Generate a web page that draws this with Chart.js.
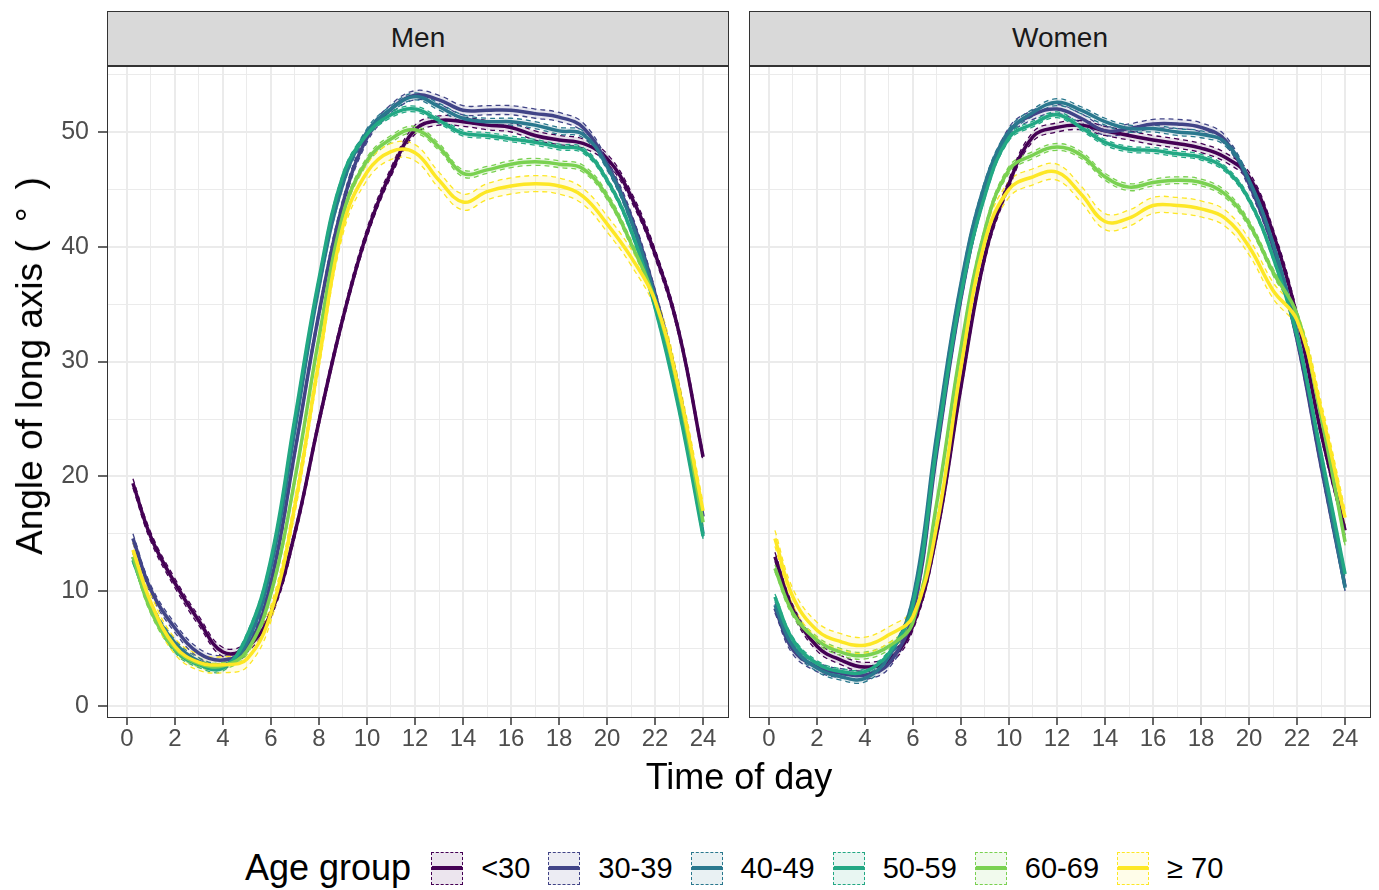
<!DOCTYPE html>
<html>
<head>
<meta charset="utf-8">
<script src="https://cdn.jsdelivr.net/npm/chart.js@4.4.0/dist/chart.umd.min.js"></script>
<style>
  body { margin: 0; background: #fff; font-family: "Liberation Sans", Arial, sans-serif; }
  #wrap { position: relative; width: 1379px; height: 890px; overflow: hidden; }
  canvas { position: absolute; }
  .strip { position: absolute; top: 11px; height: 55px; width: 622px; background: #D9D9D9;
    border: 1.5px solid #333; box-sizing: border-box; text-align: center; line-height: 52px;
    font-size: 28px; color: #1A1A1A; }
  .frame { position: absolute; top: 66px; height: 652px; width: 622px; border: 1.5px solid #333;
    box-sizing: border-box; pointer-events: none; }
  #ytitle { position: absolute; left: 30px; top: 357px; transform: translate(-50%, -50%) rotate(-90deg);
    font-size: 37px; white-space: nowrap; color: #000; }
  #ytitle .deg { letter-spacing: 18px; }
  #xtitle { position: absolute; left: 739px; top: 777px; transform: translate(-50%, -50%);
    font-size: 36px; white-space: nowrap; color: #000; }
  #legend { position: absolute; left: 245px; top: 848px; height: 40px; display: flex; align-items: center;
    white-space: nowrap; }
  #legend .title { font-size: 36px; margin-right: 20px; }
  .key { position: relative; width: 32px; height: 33px; box-sizing: border-box; border: 1.5px dashed; margin-right: 18px; }
  .key span { position: absolute; left: 0; right: 0; top: 13px; height: 4px; }
  .lab { font-size: 29px; color: #000; margin-right: 18px; }
</style>
</head>
<body>
<div id="wrap">
  <canvas id="men" width="740" height="720" style="left:0px; top:56px;"></canvas>
  <canvas id="women" width="639" height="720" style="left:740px; top:56px;"></canvas>
  <div class="strip" style="left:107px;">Men</div>
  <div class="strip" style="left:749px;">Women</div>
  <div class="frame" style="left:107px;"></div>
  <div class="frame" style="left:749px;"></div>
  <div id="ytitle">Angle of long axis <span class="deg">(°)</span></div>
  <div id="xtitle">Time of day</div>
  <div id="legend"></div>
</div>
<script>
// time of day (hours)
var hours = [0.25, 1, 2, 3, 4, 5, 6, 7, 8, 9, 10, 11, 12, 13, 14, 15, 16, 17, 18, 19, 20, 21, 22, 23, 24];

var groups = ['<30', '30-39', '40-49', '50-59', '60-69', '\u2265 70'];
var colors = ['#440154', '#414487', '#2A788E', '#22A884', '#7AD151', '#FDE725'];

// Men
var menLt30 = [19.4, 14.7, 10.7, 7.4, 4.7, 5.1, 8.1, 15.1, 24.8, 33.8, 41.2, 46.5, 50.2, 51.0, 50.9, 50.6, 50.4, 49.7, 49.3, 49.0, 47.7, 44.4, 39.4, 32.5, 21.7];
var men30 = [14.6, 10.1, 6.8, 4.6, 4.0, 5.0, 10.8, 22.2, 34.2, 43.8, 49.5, 52.0, 53.2, 52.8, 51.9, 51.9, 51.9, 51.6, 51.3, 50.4, 47.2, 42.6, 35.9, 27.5, 16.5];
var men40 = [13.0, 8.8, 5.5, 3.9, 3.5, 5.5, 12.1, 24.1, 36.5, 45.5, 50.0, 52.0, 53.1, 52.2, 51.2, 50.9, 50.9, 50.6, 50.1, 49.8, 47.0, 42.3, 35.6, 27.0, 15.0];
var men50 = [12.7, 8.6, 4.9, 3.6, 3.3, 6.1, 12.8, 25.1, 37.2, 46.2, 49.8, 51.5, 52.0, 51.0, 49.9, 49.7, 49.4, 49.1, 48.7, 48.4, 45.8, 41.4, 34.7, 25.8, 14.8];
var men60 = [13.0, 8.3, 5.0, 3.7, 3.5, 4.8, 9.8, 19.8, 32.1, 42.8, 47.5, 49.4, 50.2, 48.7, 46.4, 46.7, 47.2, 47.4, 47.2, 46.8, 44.4, 40.3, 35.3, 27.2, 16.0];
var men70 = [13.6, 9.0, 5.2, 3.8, 3.6, 4.1, 8.1, 17.5, 30.1, 41.8, 46.5, 48.3, 48.2, 45.8, 43.9, 44.8, 45.3, 45.5, 45.3, 44.4, 42.0, 39.1, 35.3, 27.5, 17.0];

// Women
var womenLt30 = [13.0, 8.4, 5.2, 4.0, 3.4, 4.0, 7.0, 15.1, 27.8, 39.2, 45.5, 49.6, 50.4, 50.6, 50.1, 49.7, 49.3, 49.0, 48.6, 47.8, 46.1, 41.2, 33.9, 23.8, 15.3];
var women30 = [8.5, 4.9, 3.4, 2.85, 2.7, 3.7, 8.1, 22.2, 35.5, 44.8, 50.0, 51.5, 52.0, 51.2, 50.1, 50.3, 50.7, 50.7, 50.4, 49.3, 45.5, 40.0, 31.9, 20.9, 10.4];
var women40 = [8.8, 5.2, 3.3, 2.55, 2.4, 4.3, 9.4, 23.8, 36.8, 45.5, 50.0, 51.7, 52.6, 51.9, 50.9, 50.3, 50.3, 50.0, 49.8, 49.1, 45.8, 40.3, 32.5, 21.5, 10.3];
var women50 = [9.5, 5.75, 3.7, 3.0, 3.0, 4.6, 8.8, 22.8, 35.8, 44.5, 49.5, 50.7, 51.5, 50.4, 49.1, 48.5, 48.4, 48.1, 47.8, 46.8, 44.1, 39.1, 32.2, 22.0, 11.5];
var women60 = [12.0, 8.1, 5.75, 4.7, 4.4, 5.2, 7.3, 17.8, 31.2, 41.5, 46.7, 48.0, 48.7, 48.0, 46.1, 45.2, 45.6, 45.8, 45.6, 44.6, 42.0, 37.8, 34.1, 25.2, 14.3];
var women70 = [14.6, 9.5, 6.6, 5.6, 5.3, 6.2, 7.8, 15.8, 29.5, 40.5, 45.0, 46.1, 46.5, 44.6, 42.2, 42.5, 43.6, 43.6, 43.3, 42.5, 40.0, 36.2, 33.6, 25.8, 16.4];

// half width of the confidence band per age group
var bandMen = [0.4, 0.4, 0.3, 0.25, 0.3, 0.7];
var bandWomen = [0.4, 0.4, 0.3, 0.25, 0.3, 0.7];

var xTicks = [];
for (var h = 0; h <= 24; h++) xTicks.push(h);
var yTicks = [0, 5, 10, 15, 20, 25, 30, 35, 40, 45, 50, 55];

function hexA(hex, a) {
  var r = parseInt(hex.slice(1, 3), 16), g = parseInt(hex.slice(3, 5), 16), b = parseInt(hex.slice(5, 7), 16);
  return 'rgba(' + r + ',' + g + ',' + b + ',' + a + ')';
}

function toXY(vals) {
  return vals.map(function (v, i) { return { x: hours[i], y: v }; });
}

function makeDatasets(series, band) {
  var ds = [];
  series.forEach(function (vals, g) {
    ds.push({
      data: toXY(vals.map(function (v) { return v - band[g]; })),
      borderColor: colors[g], borderWidth: 1.3, borderDash: [5, 4],
      fill: false, order: 20 + (5 - g)
    });
    ds.push({
      data: toXY(vals.map(function (v) { return v + band[g]; })),
      borderColor: colors[g], borderWidth: 1.3, borderDash: [5, 4],
      fill: '-1', backgroundColor: hexA(colors[g], 0.12), order: 20 + (5 - g)
    });
  });
  series.forEach(function (vals, g) {
    ds.push({
      data: toXY(vals), borderColor: colors[g], borderWidth: 3.5,
      fill: false, order: 5 - g
    });
  });
  return ds;
}

function isMajorX(ctx) { return ctx.tick && ctx.tick.value % 2 === 0; }
function isMajorY(ctx) { return ctx.tick && ctx.tick.value % 10 === 0; }

function makeChart(id, series, band, showY, padLeft, padRight) {
  return new Chart(document.getElementById(id), {
    type: 'line',
    data: { datasets: makeDatasets(series, band) },
    options: {
      responsive: false,
      animation: false,
      devicePixelRatio: 1,
      layout: { padding: { top: 10, left: padLeft, right: padRight, bottom: 0 } },
      elements: { point: { radius: 0 }, line: { tension: 0.4 } },
      plugins: { legend: { display: false }, tooltip: { enabled: false } },
      scales: {
        x: {
          type: 'linear', min: -0.83, max: 25.08,
          afterBuildTicks: function (s) { s.ticks = xTicks.map(function (v) { return { value: v }; }); },
          afterFit: function (s) { s.height = 58; s.paddingLeft = 0; s.paddingRight = 0; },
          border: { display: false },
          grid: {
            color: '#EBEBEB',
            lineWidth: function (ctx) { return isMajorX(ctx) ? 2 : 1; },
            tickColor: function (ctx) { return isMajorX(ctx) ? '#333333' : 'rgba(0,0,0,0)'; },
            tickWidth: 1.5, tickLength: 7
          },
          ticks: {
            autoSkip: false, maxRotation: 0, padding: 0,
            color: '#4D4D4D', font: { family: 'Liberation Sans, Arial', size: 24 },
            callback: function (v) { return v % 2 === 0 ? String(v) : ''; }
          }
        },
        y: {
          type: 'linear', min: -1.045, max: 55.75,
          afterBuildTicks: function (s) { s.ticks = yTicks.map(function (v) { return { value: v }; }); },
          afterFit: function (s) { s.width = showY ? 107 : 0; s.paddingTop = 0; s.paddingBottom = 0; },
          border: { display: false },
          grid: {
            color: '#EBEBEB',
            lineWidth: function (ctx) { return isMajorY(ctx) ? 2 : 1; },
            tickColor: function (ctx) { return isMajorY(ctx) ? '#333333' : 'rgba(0,0,0,0)'; },
            drawTicks: showY, tickWidth: 1.5, tickLength: 9
          },
          ticks: {
            display: showY, autoSkip: false, padding: 9,
            color: '#4D4D4D', font: { family: 'Liberation Sans, Arial', size: 25 },
            callback: function (v) { return v % 10 === 0 ? String(v) : ''; }
          }
        }
      }
    }
  });
}

makeChart('men', [menLt30, men30, men40, men50, men60, men70], bandMen, true, 0, 11);
makeChart('women', [womenLt30, women30, women40, women50, women60, women70], bandWomen, false, 9, 8);

// legend
var legend = document.getElementById('legend');
var html = '<span class="title">Age group</span>';
groups.forEach(function (name, g) {
  html += '<div class="key" style="border-color:' + colors[g] + ';background:' + hexA(colors[g], 0.1) + ';">' +
    '<span style="background:' + colors[g] + ';"></span></div><span class="lab">' + name + '</span>';
});
legend.innerHTML = html;
</script>
</body>
</html>
